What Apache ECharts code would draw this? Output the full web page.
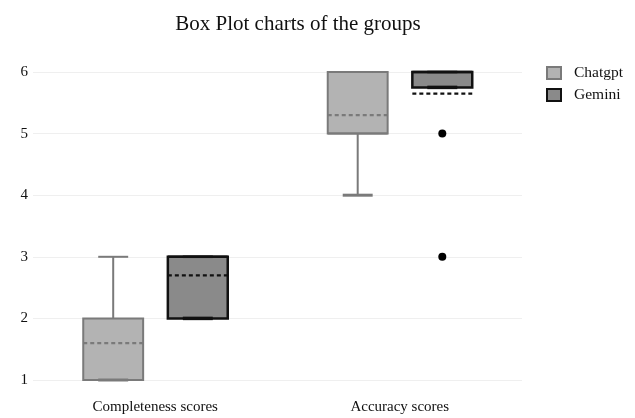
<!DOCTYPE html>
<html>
<head>
<meta charset="utf-8">
<script src="https://cdn.jsdelivr.net/npm/echarts@6/dist/echarts.min.js"></script>
<style>html,body{margin:0;padding:0;background:#fff}#c{width:635px;height:418px}</style>
</head>
<body>
<div id="c"></div>
<script>
// Categories and tick labels
const categories = ['Completeness scores', 'Accuracy scores'];
const yTicks = [1, 2, 3, 4, 5, 6];
const seriesNames = ['Chatgpt', 'Gemini'];

// Box stats per category: [min, q1, median, q3, max]
const chatgptBox = [[1, 1, 1, 2, 3], [4, 5, 5, 6, 6]];
const geminiBox  = [[2, 2, 3, 3, 3], [5.75, 5.75, 6, 6, 6]];
// Means per category
const chatgptMean = [1.6, 5.3];
const geminiMean  = [2.7, 5.65];
// Outliers: [categoryIndex, value]
const geminiOutliers = [[1, 5], [1, 3]];

const styles = {
  Chatgpt: { fill: '#b3b3b3', stroke: '#7a7a7a', lw: 2, offset: -0.172 },
  Gemini:  { fill: '#8a8a8a', stroke: '#111111', lw: 2.5, offset: 0.174 }
};
const boxFrac = 0.245;

function buildData(box, mean) {
  return box.map((b, i) => [i, b[0], b[1], b[2], b[3], b[4], mean[i]]);
}

function makeRender(st) {
  return function (params, api) {
    const cat = api.value(0);
    const band = api.size([1, 0])[0];
    const cx = api.coord([cat, 1])[0] + st.offset * band;
    const w = boxFrac * band;
    const y = (v) => api.coord([cat, v])[1];
    const yMin = y(api.value(1)), yQ1 = y(api.value(2)), yMed = y(api.value(3)),
          yQ3 = y(api.value(4)), yMax = y(api.value(5)), yMean = y(api.value(6));
    const lineStyle = { stroke: st.stroke, lineWidth: st.lw, fill: null };
    const cap = w / 4;
    return {
      type: 'group',
      children: [
        { type: 'line', shape: { x1: cx, y1: yQ3, x2: cx, y2: yMax }, style: lineStyle },
        { type: 'line', shape: { x1: cx, y1: yQ1, x2: cx, y2: yMin }, style: lineStyle },
        { type: 'rect', shape: { x: cx - w / 2, y: yQ3, width: w, height: yQ1 - yQ3 },
          style: { fill: st.fill, stroke: st.stroke, lineWidth: st.lw } },
        { type: 'line', shape: { x1: cx - w / 2, y1: yMed, x2: cx + w / 2, y2: yMed }, style: lineStyle },
        { type: 'line', shape: { x1: cx - cap, y1: yMax, x2: cx + cap, y2: yMax }, style: lineStyle },
        { type: 'line', shape: { x1: cx - cap, y1: yMin, x2: cx + cap, y2: yMin }, style: { stroke: st.stroke, lineWidth: st.lw + 1 } },
        { type: 'line', shape: { x1: cx - w / 2, y1: yMean, x2: cx + w / 2, y2: yMean },
          style: { stroke: st.stroke, lineWidth: 2.2, lineDash: [4, 3] } }
      ]
    };
  };
}

const chart = echarts.init(document.getElementById('c'));
chart.setOption({
  animation: false,
  title: {
    text: 'Box Plot charts of the groups',
    left: 293, top: 9, textAlign: 'center',
    textStyle: { fontFamily: 'Liberation Serif', fontSize: 21, fontWeight: 'normal', color: '#111' }
  },
  legend: {
    orient: 'vertical', left: 546, top: 65, padding: 0, itemWidth: 14, itemHeight: 12, itemGap: 6,
    textStyle: { fontFamily: 'Liberation Serif', fontSize: 15.5, color: '#111', padding: [0, 0, 0, 8] },
    data: [
      { name: 'Chatgpt', icon: 'rect', itemStyle: { color: styles.Chatgpt.fill, borderColor: styles.Chatgpt.stroke, borderWidth: 2 } },
      { name: 'Gemini', icon: 'rect', itemStyle: { color: styles.Gemini.fill, borderColor: styles.Gemini.stroke, borderWidth: 2 } }
    ]
  },
  grid: { left: 33, right: 113, top: 72, bottom: 38 },
  xAxis: {
    type: 'category', data: categories,
    axisLine: { show: false }, axisTick: { show: false },
    axisLabel: { fontFamily: 'Liberation Serif', fontSize: 15, color: '#111', margin: 20 }
  },
  yAxis: {
    type: 'value', min: yTicks[0], max: yTicks[yTicks.length - 1], interval: 1,
    axisLine: { show: false }, axisTick: { show: false },
    axisLabel: { fontFamily: 'Liberation Serif', fontSize: 15, color: '#111', margin: 5 },
    splitLine: { lineStyle: { color: '#efefef', width: 1 } }
  },
  series: [
    { name: 'Chatgpt', type: 'custom', itemStyle: { color: styles.Chatgpt.fill },
      renderItem: makeRender(styles.Chatgpt), encode: { x: 0, y: [1, 2, 3, 4, 5, 6] },
      data: buildData(chatgptBox, chatgptMean) },
    { name: 'Gemini', type: 'custom', itemStyle: { color: styles.Gemini.fill },
      renderItem: makeRender(styles.Gemini), encode: { x: 0, y: [1, 2, 3, 4, 5, 6] },
      data: buildData(geminiBox, geminiMean) },
    { name: 'Gemini outliers', type: 'custom', z: 5,
      renderItem: function (params, api) {
        const cat = api.value(0);
        const band = api.size([1, 0])[0];
        const p = api.coord([cat, api.value(1)]);
        return { type: 'circle', shape: { cx: p[0] + styles.Gemini.offset * band, cy: p[1], r: 4 }, style: { fill: '#000' } };
      },
      encode: { x: 0, y: 1 },
      data: geminiOutliers }
  ]
});
</script>
</body>
</html>
